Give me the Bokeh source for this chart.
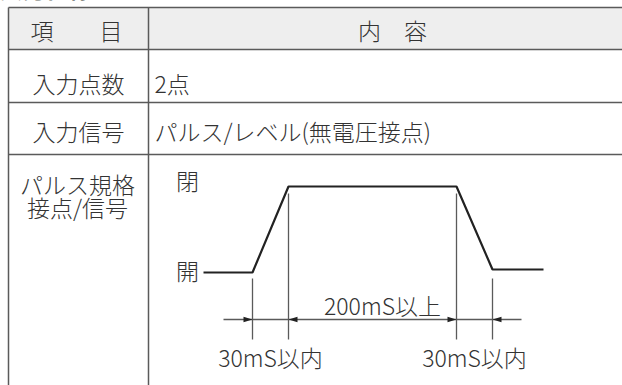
from bokeh.plotting import figure
from bokeh.models import Range1d
from bokeh.core.properties import value
from bokeh.embed import file_html
from bokeh.resources import INLINE

# ---- table content ----
title = "入力仕様"
header_labels = ["項　　目", "内　容"]
row_labels = ["入力点数", "入力信号", "パルス規格\n接点/信号"]
row_contents = ["2点", "パルス/レベル(無電圧接点)", ""]

# ---- pulse diagram (schematic) ----
level_labels = ["閉", "開"]
wave_t = [203, 252, 288, 456, 492, 543]        # horizontal breakpoints of the waveform
wave_level = [272, 272, 186, 186, 269, 269]    # waveform level at each breakpoint
edge_t = [252, 288, 456, 492]                  # dimension marks (start/end of edges)
edge_top = [278, 193, 193, 278]
dim_labels = ["30mS以内", "200mS以上", "30mS以内"]

FONT = value("Noto Sans CJK JP Light")
TXT = "#333333"
GRID = "#5a5a5a"

# layout (page pixel coordinates)
LEFT, COL, RIGHT = 8, 148, 630
row_lines = [7, 49, 102, 154]
BOTTOM = 392

p = figure(width=622, height=385, x_range=Range1d(0, 622), y_range=Range1d(385, 0),
           output_backend="svg", toolbar_location=None, min_border=0,
           x_axis_type=None, y_axis_type=None)
p.grid.visible = False
p.outline_line_color = None
p.background_fill_color = "white"

# cut-off title at the very top
p.text(x=[-1], y=[4], text=[title], text_font=value("Noto Sans CJK JP"), text_font_size="23px",
       text_font_style="bold", text_color="#222222", text_baseline="bottom", text_align="left")

# header background
p.quad(left=LEFT, right=RIGHT, top=row_lines[0], bottom=row_lines[1],
       fill_color="#eeeeee", line_color=None)

# table lines
p.segment(x0=[LEFT] * len(row_lines), y0=row_lines, x1=[RIGHT] * len(row_lines), y1=row_lines,
          line_color=GRID, line_width=1.5)
p.segment(x0=[LEFT, COL], y0=[row_lines[0]] * 2, x1=[LEFT, COL], y1=[BOTTOM] * 2,
          line_color=GRID, line_width=1.5)

common = dict(text_font=FONT, text_font_size="23px", text_color=TXT, text_baseline="middle")

# header
p.text(x=[76, 392], y=[29, 29], text=header_labels, text_align="center", **common)

# row labels
lab_y = [82, 130]
p.text(x=[78, 78], y=lab_y, text=row_labels[:2], text_align="center", **common)
r3 = row_labels[2].split("\n")
p.text(x=[77, 77], y=[183, 206], text=r3, text_align="center", **common)

# contents
p.text(x=[154, 154], y=lab_y, text=row_contents[:2], text_align="left", **common)

# pulse waveform
p.line(x=wave_t, y=wave_level, line_color="#222222", line_width=2.2)

# guides
p.segment(x0=edge_t, y0=edge_top, x1=edge_t, y1=[339] * 4, line_color=GRID, line_width=1.3)

# dimension line
DIM_Y = 319
p.segment(x0=[223], y0=[DIM_Y], x1=[521], y1=[DIM_Y], line_color=GRID, line_width=1.3)

# arrowheads: right-pointing at 1st & 3rd, left-pointing at 2nd & 4th
L, W = 9, 2.8
xs, ys = [], []
for i, t in enumerate(edge_t):
    d = -1 if i % 2 == 0 else 1
    xs.append([t, t + d * L, t + d * L])
    ys.append([DIM_Y, DIM_Y - W, DIM_Y + W])
p.patches(xs=xs, ys=ys, fill_color="#222222", line_color=None)

# level labels
p.text(x=[187, 187], y=[179, 269], text=level_labels, text_align="center", **common)

# dimension labels
p.text(x=[270, 382, 474], y=[356, 304, 356], text=dim_labels, text_align="center", **common)

open("out.html", "w").write(file_html(p, INLINE))
